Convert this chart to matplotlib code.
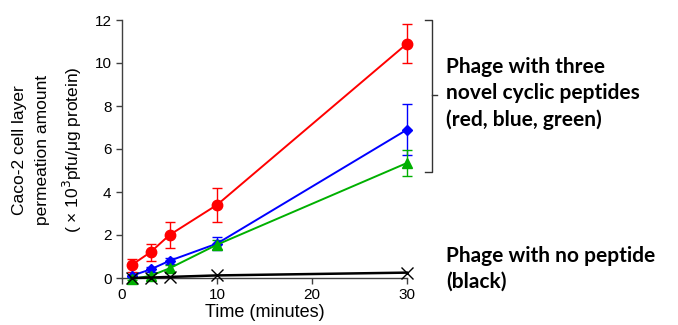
"""
Caco-2 permeation of phage displaying cyclic peptides
"""

import numpy as np
import matplotlib.pyplot as plt
from matplotlib.lines import Line2D

plt.rcParams['font.family'] = ['Liberation Sans', 'DejaVu Sans']

# Data
time_min = [1, 3, 5, 10, 30]

red_vals = [0.6, 1.2, 2.0, 3.4, 10.9]
red_err = [0.3, 0.4, 0.6, 0.8, 0.9]
blue_vals = [0.1, 0.4, 0.8, 1.6, 6.9]
blue_err = [0.05, 0.1, 0.15, 0.3, 1.2]
green_vals = [-0.05, 0.1, 0.45, 1.55, 5.35]
green_err = [0.05, 0.1, 0.15, 0.2, 0.6]
black_vals = [0.0, 0.02, 0.05, 0.12, 0.25]

y_ticks = [0, 2, 4, 6, 8, 10, 12]
x_ticks = [0, 10, 20, 30]

W, H = 678, 325
fig = plt.figure(figsize=(W / 100, H / 100), dpi=100)
ax = fig.add_axes([122 / W, 1 - 278 / H, (407 - 122) / W, (278 - 20) / H])

series = [
    (red_vals, red_err, '#ff0000', 'o', 7.5),
    (blue_vals, blue_err, '#0000ff', 'D', 5.5),
    (green_vals, green_err, '#00b000', '^', 6.5),
]
for vals, err, col, mk, ms in series:
    ax.errorbar(time_min, vals, yerr=err, color=col, ecolor=col, elinewidth=1.0,
                capsize=3.5, capthick=1.0, marker=mk, markersize=ms, lw=1.4,
                clip_on=False, zorder=3)
ax.plot(time_min, black_vals, color='black', marker='x', markersize=8,
        mew=1.0, lw=1.8, clip_on=False, zorder=4)

ax.set_xlim(0, 30)
ax.set_ylim(0, 12)
ax.set_xticks(x_ticks)
ax.set_yticks(y_ticks)
ax.tick_params(labelsize=11, color='#404040', length=4, width=1.0)
for s in ['top', 'right']:
    ax.spines[s].set_visible(False)
for s in ['left', 'bottom']:
    ax.spines[s].set_color('#404040')
    ax.spines[s].set_linewidth(1.0)

ax.set_xlabel('Time (minutes)', fontsize=13, labelpad=1)
fig.text(48 / W, 1 - 150 / H,
         'Caco-2 cell layer\npermeation amount\n( × 10$^{3}$pfu/μg protein)',
         rotation=90, ha='center', va='center', fontsize=12.5, linespacing=1.6,
         multialignment='center')

# bracket grouping the three peptide curves
def fx(px):
    return px / W

def fy(py):
    return 1 - py / H

bk = dict(color='#333333', lw=1.0, transform=fig.transFigure)
fig.add_artist(Line2D([fx(425), fx(432), fx(432), fx(425)],
                      [fy(20), fy(20), fy(172), fy(172)], **bk))
fig.add_artist(Line2D([fx(432), fx(437)], [fy(95), fy(95)], **bk))

fig.text(fx(446), fy(93.5), 'Phage with three\nnovel cyclic peptides\n(red, blue, green)',
         ha='left', va='center', fontsize=15, fontweight='bold',
         family=['Lato', 'DejaVu Sans'], linespacing=1.38)
fig.text(fx(446), fy(269), 'Phage with no peptide\n(black)',
         ha='left', va='center', fontsize=15, fontweight='bold',
         family=['Lato', 'DejaVu Sans'], linespacing=1.38)

fig.savefig('out.png', dpi=100)
